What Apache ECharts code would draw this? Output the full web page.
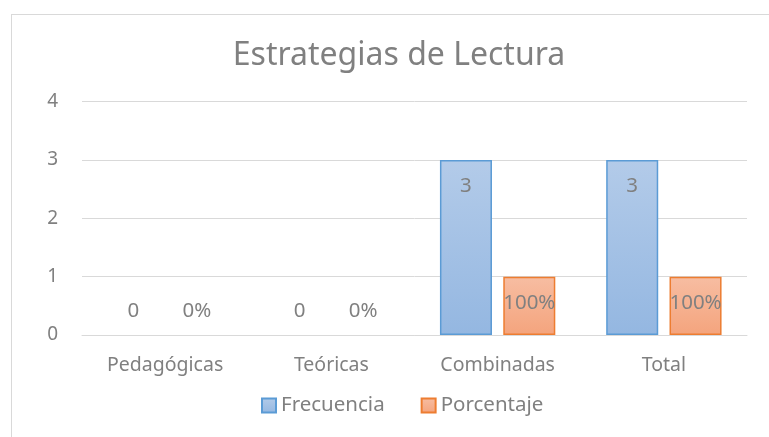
<!DOCTYPE html>
<html>
<head>
<meta charset="utf-8">
<script src="https://cdn.jsdelivr.net/npm/echarts@6/dist/echarts.min.js"></script>
<style>
  html, body { margin: 0; padding: 0; background: #fff; }
  .frame {
    position: absolute; left: 11px; top: 14px;
    width: 800px; height: 440px;
    border: 1px solid #d9d9d9;
  }
  #chart { position: absolute; left: 0; top: 0; width: 769px; height: 437px; }
</style>
</head>
<body>
<div class="frame"></div>
<div id="chart"></div>
<script>
const categories = ['Pedagógicas', 'Teóricas', 'Combinadas', 'Total']
const frecuencia = [0, 0, 3, 3]
const porcentaje = [0, 0, 1, 1]
const porcentajeLabels = ['0%', '0%', '100%', '100%']
const yTicks = [0, 1, 2, 3, 4]

const textColor = '#808080'
const font = 'Noto Sans'

// etiqueta dentro de la barra, o encima si vale 0
const makeData = (values, labels) => values.map((v, i) => ({
  value: v,
  itemStyle: v > 0 ? {} : { borderWidth: 0 },
  label: {
    show: true,
    formatter: labels ? labels[i] : String(v),
    position: v > 0 ? 'insideTop' : 'top',
    distance: v > 0 ? 16 : 13,
    color: textColor,
    fontSize: 20.5,
    fontFamily: font
  }
}))

const chart = echarts.init(document.getElementById('chart'))
const option = {
  animation: false,
  title: {
    text: 'Estrategias de Lectura',
    left: 394,
    top: 35,
    textAlign: 'center',
    textStyle: {
      fontSize: 32,
      fontWeight: 'normal',
      color: textColor,
      fontFamily: font
    }
  },
  grid: {
    left: 82,
    right: 22,
    top: 101.7,
    bottom: 102
  },
  legend: {
    bottom: 16,
    left: 256,
    icon: 'rect',
    itemWidth: 14,
    itemHeight: 14,
    itemGap: 36,
    textStyle: { color: textColor, fontSize: 20.5, fontFamily: font },
    data: ['Frecuencia', 'Porcentaje']
  },
  xAxis: {
    type: 'category',
    data: categories,
    axisTick: { show: false },
    axisLine: { lineStyle: { color: '#d9d9d9' } },
    axisLabel: { color: textColor, fontSize: 19.5, fontFamily: font, margin: 20 }
  },
  yAxis: {
    type: 'value',
    min: yTicks[0],
    max: yTicks[yTicks.length - 1],
    interval: 1,
    axisLine: { show: false },
    axisTick: { show: false },
    axisLabel: { color: textColor, fontSize: 19, fontFamily: font, margin: 24 },
    splitLine: { lineStyle: { color: '#d9d9d9', width: 1 } }
  },
  series: [
    {
      name: 'Frecuencia',
      type: 'bar',
      barWidth: '31.3%',
      barGap: '21.7%',
      data: makeData(frecuencia),
      itemStyle: {
        color: new echarts.graphic.LinearGradient(0, 0, 0, 1, [
          { offset: 0, color: '#b3cbe9' },
          { offset: 1, color: '#94b7e1' }
        ]),
        borderColor: '#5b9bd5',
        borderWidth: 1.5
      }
    },
    {
      name: 'Porcentaje',
      type: 'bar',
      barWidth: '31.3%',
      data: makeData(porcentaje, porcentajeLabels),
      itemStyle: {
        color: new echarts.graphic.LinearGradient(0, 0, 0, 1, [
          { offset: 0, color: '#f7bda2' },
          { offset: 1, color: '#f4a47d' }
        ]),
        borderColor: '#ed7d31',
        borderWidth: 1.5
      }
    }
  ]
}
chart.setOption(option)
</script>
</body>
</html>
